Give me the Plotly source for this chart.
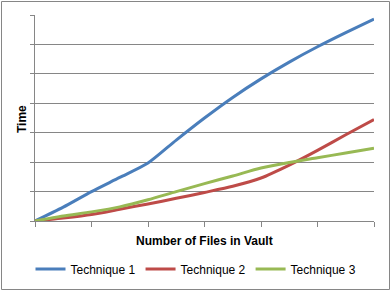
import plotly.graph_objects as go

x_vals = [0, 0.5, 1, 1.5, 2, 2.5, 3, 3.5, 4, 4.5, 5, 5.5, 6]
technique_1 = [0, 0.47, 1.0, 1.48, 1.97, 2.75, 3.5, 4.2, 4.83, 5.4, 5.92, 6.4, 6.86]
technique_2 = [0, 0.1, 0.22, 0.4, 0.58, 0.77, 0.97, 1.18, 1.46, 1.9, 2.4, 2.93, 3.45]
technique_3 = [0, 0.17, 0.31, 0.48, 0.72, 1.0, 1.27, 1.53, 1.8, 1.99, 2.15, 2.31, 2.47]
series_names = ["Technique 1", "Technique 2", "Technique 3"]
colors = ["#4A7EBB", "#BE4B48", "#98B954"]
x_title = "Number of Files in Vault"
y_title = "Time"

W, H = 391, 291
L, R, T, B = 35, 17, 15, 70
pw, ph = W - L - R, H - T - B

def px_x(p):
    return (p - L) / pw

def px_y(p):
    return (ph + T - p) / ph

fig = go.Figure()
for name, ys, c in zip(series_names, [technique_1, technique_2, technique_3], colors):
    fig.add_trace(go.Scatter(x=x_vals, y=ys, name=name, mode="lines",
                             line=dict(color=c, width=3, shape="spline", smoothing=0.7)))

grid = "#868686"
fig.update_layout(
    width=W, height=H,
    margin=dict(l=L, r=R, t=T, b=B, autoexpand=False),
    paper_bgcolor="white", plot_bgcolor="white",
    font=dict(family="Liberation Sans, Arial, sans-serif", size=12, color="black"),
    showlegend=True,
    legend=dict(orientation="h", x=px_x(196), xanchor="center",
                y=px_y(269), yanchor="middle",
                font=dict(size=12), itemwidth=30, tracegroupgap=0,
                bgcolor="rgba(0,0,0,0)"),
    xaxis=dict(range=[0, 6], dtick=1, tick0=0, showgrid=False, zeroline=False,
               showline=True, linecolor=grid, linewidth=1, automargin=False,
               ticks="outside", ticklen=5, tickcolor=grid, showticklabels=False),
    yaxis=dict(range=[0, 7], dtick=1, tick0=0, showgrid=True, gridcolor=grid, gridwidth=1,
               zeroline=False, showline=True, linecolor=grid, linewidth=1, automargin=False,
               ticks="outside", ticklen=4, tickcolor=grid, showticklabels=False),
    annotations=[
        dict(text="<b>" + x_title + "</b>", xref="paper", yref="paper",
             x=px_x(204), y=px_y(241), xanchor="center", yanchor="middle",
             showarrow=False, font=dict(size=12)),
        dict(text="<b>" + y_title + "</b>", xref="paper", yref="paper",
             x=px_x(22), y=px_y(119), xanchor="center", yanchor="middle",
             textangle=-90, showarrow=False, font=dict(size=12)),
    ],
    shapes=[dict(type="rect", xref="paper", yref="paper",
                 x0=px_x(1.5), x1=px_x(389.5),
                 y0=px_y(289.5), y1=px_y(1.5),
                 line=dict(color=grid, width=1), fillcolor="rgba(0,0,0,0)", layer="below")],
)
fig.write_html("out.html")
